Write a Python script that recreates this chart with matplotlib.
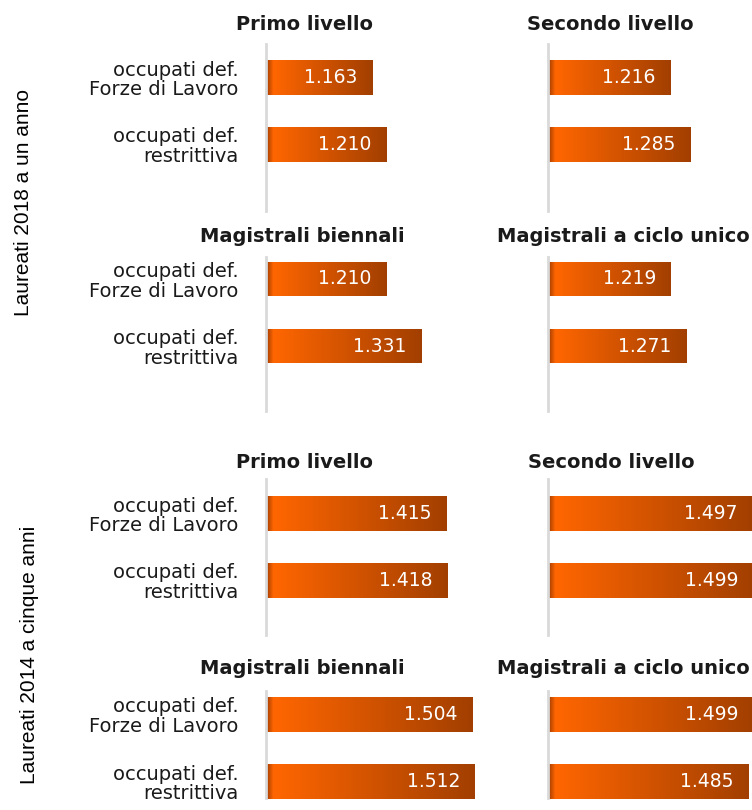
import numpy as np
import matplotlib
matplotlib.use("Agg")
import matplotlib.pyplot as plt
from matplotlib.colors import to_rgb

# dati: retribuzione mensile netta (migliaia di euro)
categorie = ["occupati def.\nForze di Lavoro", "occupati def.\nrestrittiva"]
titoli = ["Primo livello", "Secondo livello",
          "Magistrali biennali", "Magistrali a ciclo unico"]
gruppi = ["Laureati 2018 a un anno", "Laureati 2014 a cinque anni"]

val_2018 = {
    "Primo livello": [1.163, 1.210],
    "Secondo livello": [1.216, 1.285],
    "Magistrali biennali": [1.210, 1.331],
    "Magistrali a ciclo unico": [1.219, 1.271],
}
val_2014 = {
    "Primo livello": [1.415, 1.418],
    "Secondo livello": [1.497, 1.499],
    "Magistrali biennali": [1.504, 1.512],
    "Magistrali a ciclo unico": [1.499, 1.485],
}

W, H = 752, 810
fig = plt.figure(figsize=(W / 100, H / 100), dpi=100)

X0 = 0.8            # inizio asse x
PX_UNIT = 293.4     # pixel per unità
AX_W = 232          # larghezza assi in pixel
ROW = 67            # distanza tra le barre in pixel
BAR_H = 0.52

col_x = [266, 548]
# (centro prima barra, alto asse, basso asse) per ogni riga di pannelli
righe = [(77.5, 44, 211), (279, 257, 411), (513.5, 479, 635), (714.5, 691, 798)]
titolo_pos = [(304.5, 25), (610, 25), (302, 237), (623, 237),
              (305, 462), (611, 462), (302, 668), (623, 668)]


def gradiente(lung_px):
    n = max(int(lung_px), 2)
    scuro = np.array(to_rgb("#9e3c00"))
    chiaro = np.array(to_rgb("#ff6600"))
    fine = np.array(to_rgb("#a23f00"))
    out = np.zeros((1, n, 3))
    for k in range(n):
        if k < 7:
            c = scuro + (chiaro - scuro) * (k / 7)
        else:
            c = chiaro + (fine - chiaro) * ((k - 7) / max(n - 8, 1))
        out[0, k] = c
    return out


def pannello(ax, valori, c1, top, bottom, etichette):
    y = np.arange(len(valori))
    bars = ax.barh(y, [v - X0 for v in valori], left=X0, height=BAR_H,
                   color="none", edgecolor="none")
    for yi, v, b in zip(y, valori, bars):
        lung = (v - X0) * PX_UNIT
        im = ax.imshow(gradiente(lung), extent=[X0, v, yi + BAR_H / 2, yi - BAR_H / 2],
                       aspect="auto", interpolation="bilinear")
        im.set_clip_path(b)
        ax.annotate(f"{v:.3f}", xy=(v, yi), xytext=(-15, 0), textcoords="offset pixels",
                    ha="right", va="center", color="white", fontsize=13.5,
                    family="DejaVu Sans")
    ax.set_xlim(X0, X0 + AX_W / PX_UNIT)
    ax.set_ylim((bottom - c1) / ROW, (top - c1) / ROW)
    ax.set_yticks(y)
    if etichette:
        ax.set_yticklabels(categorie, fontsize=14, linespacing=1.05, color="#1a1a1a")
    else:
        ax.set_yticklabels([])
    ax.tick_params(axis="y", length=0, pad=20)
    ax.set_xticks([])
    for s in ["top", "right", "bottom"]:
        ax.spines[s].set_visible(False)
    ax.spines["left"].set_color("#d9d9d9")
    ax.spines["left"].set_linewidth(2)


k = 0
for r, (c1, top, bottom) in enumerate(righe):
    dati = val_2018 if r < 2 else val_2014
    for c in range(2):
        nome = titoli[(r % 2) * 2 + c]
        ax = fig.add_axes([col_x[c] / W, 1 - bottom / H, AX_W / W, (bottom - top) / H])
        pannello(ax, dati[nome], c1, top, bottom, c == 0)
        tx, ty = titolo_pos[k]
        fig.text(tx / W, 1 - ty / H, nome, ha="center", va="center",
                 fontsize=14, fontweight="bold", color="#1a1a1a")
        k += 1

fig.text(24 / W, 1 - 202 / H, gruppi[0], rotation=90, ha="center", va="center",
         fontsize=15, family="Liberation Sans")
fig.text(30 / W, 1 - 655 / H, gruppi[1], rotation=90, ha="center", va="center",
         fontsize=15, family="Liberation Sans")

fig.savefig("out.png", dpi=100)
